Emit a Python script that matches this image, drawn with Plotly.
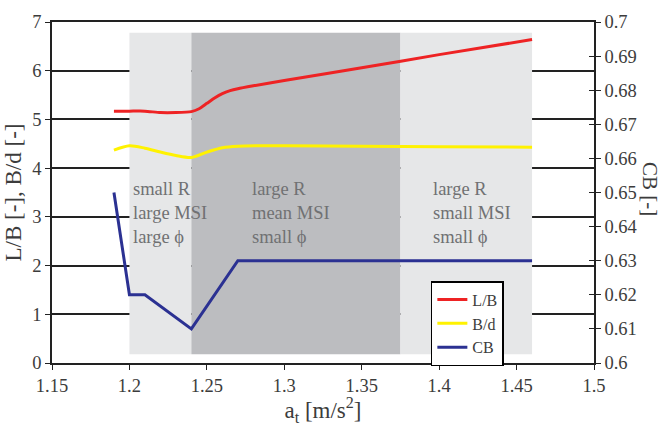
import plotly.graph_objects as go

# Acceleration values (m/s^2) and ship parameters
lb_x = [1.19, 1.20, 1.21, 1.22, 1.23, 1.24, 1.245, 1.25, 1.255, 1.26, 1.265, 1.27, 1.28, 1.30, 1.35, 1.40, 1.46]
lb_y = [5.17, 5.17, 5.17, 5.14, 5.14, 5.16, 5.22, 5.33, 5.44, 5.53, 5.59, 5.63, 5.69, 5.80, 6.06, 6.33, 6.64]

bd_x = [1.19, 1.20, 1.21, 1.22, 1.23, 1.24, 1.25, 1.26, 1.27, 1.30, 1.35, 1.40, 1.46]
bd_y = [4.37, 4.46, 4.41, 4.33, 4.26, 4.22, 4.33, 4.42, 4.45, 4.46, 4.45, 4.44, 4.43]

cb_x = [1.19, 1.20, 1.21, 1.24, 1.27, 1.46]
cb_y = [0.650, 0.620, 0.620, 0.610, 0.630, 0.630]

# Regime bands: (start, end, colour)
band_start = [1.20, 1.24, 1.375]
band_end = [1.24, 1.375, 1.46]
band_color = ["#e6e7e8", "#bcbdc0", "#e6e7e8"]
band_y0, band_y1 = 0.18, 6.78

region_x = [1.201, 1.278, 1.395]
region_text = [
    "small R<br>large MSI<br>large ϕ",
    "large R<br>mean MSI<br>small ϕ",
    "large R<br>small MSI<br>small ϕ",
]

x_ticks = [1.15, 1.2, 1.25, 1.3, 1.35, 1.4, 1.45, 1.5]

FONT = "Liberation Serif"
TXT = "#3c3c3c"

fig = go.Figure()

fig.add_trace(go.Scatter(x=lb_x, y=lb_y, name="L/B", mode="lines",
                         line=dict(color="#ee2324", width=3, shape="spline", smoothing=0.6)))
fig.add_trace(go.Scatter(x=bd_x, y=bd_y, name="B/d", mode="lines",
                         line=dict(color="#fff200", width=3, shape="spline", smoothing=0.8)))
fig.add_trace(go.Scatter(x=cb_x, y=cb_y, name="CB", mode="lines", yaxis="y2",
                         line=dict(color="#2b3192", width=3)))

shapes = []
for x0, x1, c in zip(band_start, band_end, band_color):
    shapes.append(dict(type="rect", xref="x", yref="y", x0=x0, x1=x1,
                       y0=band_y0, y1=band_y1, fillcolor=c,
                       line=dict(width=0), layer="between"))

annotations = []
for xv, t in zip(region_x, region_text):
    annotations.append(dict(x=xv, y=3.82, xref="x", yref="y", text=t,
                            showarrow=False, xanchor="left", yanchor="top",
                            align="left",
                            font=dict(family=FONT, size=18.5, color="#707173")))
annotations.append(dict(x=1.0, xref="paper", xanchor="center", xshift=56,
                        y=0.51, yref="paper", yanchor="middle",
                        text="CB [-]", showarrow=False, textangle=90,
                        font=dict(family=FONT, size=21, color=TXT)))

fig.update_layout(
    width=661, height=426,
    margin=dict(l=52, r=67, t=22, b=59),
    plot_bgcolor="white", paper_bgcolor="white",
    font=dict(family=FONT, color=TXT, size=18),
    shapes=shapes, annotations=annotations,
    showlegend=True,
    legend=dict(x=0.699, y=0.24, xanchor="left", yanchor="top",
                bgcolor="white", bordercolor="black", borderwidth=1.5,
                font=dict(family=FONT, size=16, color=TXT),
                itemwidth=30, tracegroupgap=0),
    xaxis=dict(range=[1.15, 1.5], tickvals=x_ticks,
               ticktext=[f"{v:g}" for v in x_ticks],
               showgrid=False, zeroline=False,
               showline=True, linecolor="#222", linewidth=1.5, mirror=True,
               ticks="outside", ticklen=5, tickcolor="#222",
               tickfont=dict(size=18.5),
               title=dict(text="a<sub>t</sub> [m/s<sup>2</sup>]", font=dict(size=23), standoff=2)),
    yaxis=dict(range=[0, 7], dtick=1, showgrid=True, gridcolor="#222", gridwidth=1.5,
               zeroline=False, showline=True, linecolor="#222", linewidth=1.5,
               ticks="outside", ticklen=5, tickcolor="#222",
               tickfont=dict(size=18.5),
               title=dict(text="L/B [-], B/d [-]", font=dict(size=23), standoff=4)),
    yaxis2=dict(range=[0.6, 0.7], dtick=0.01, overlaying="y", side="right",
                showgrid=False, zeroline=False, showline=True, linecolor="#222",
                linewidth=1.5, ticks="outside", ticklen=5, tickcolor="#222",
                tickformat="~g", tickfont=dict(size=18.5)),
    yaxis3=dict(range=[0.6, 0.7], dtick=0.01, overlaying="y", side="right",
                showgrid=False, zeroline=False, showline=False,
                ticks="inside", ticklen=5, tickcolor="#222", showticklabels=False),
)

# invisible trace so the inner tick marks of the right axis are drawn
fig.add_trace(go.Scatter(x=[1.15], y=[0.6], yaxis="y3", mode="markers",
                         marker=dict(opacity=0), showlegend=False, hoverinfo="skip"))

fig.write_html("out.html")
